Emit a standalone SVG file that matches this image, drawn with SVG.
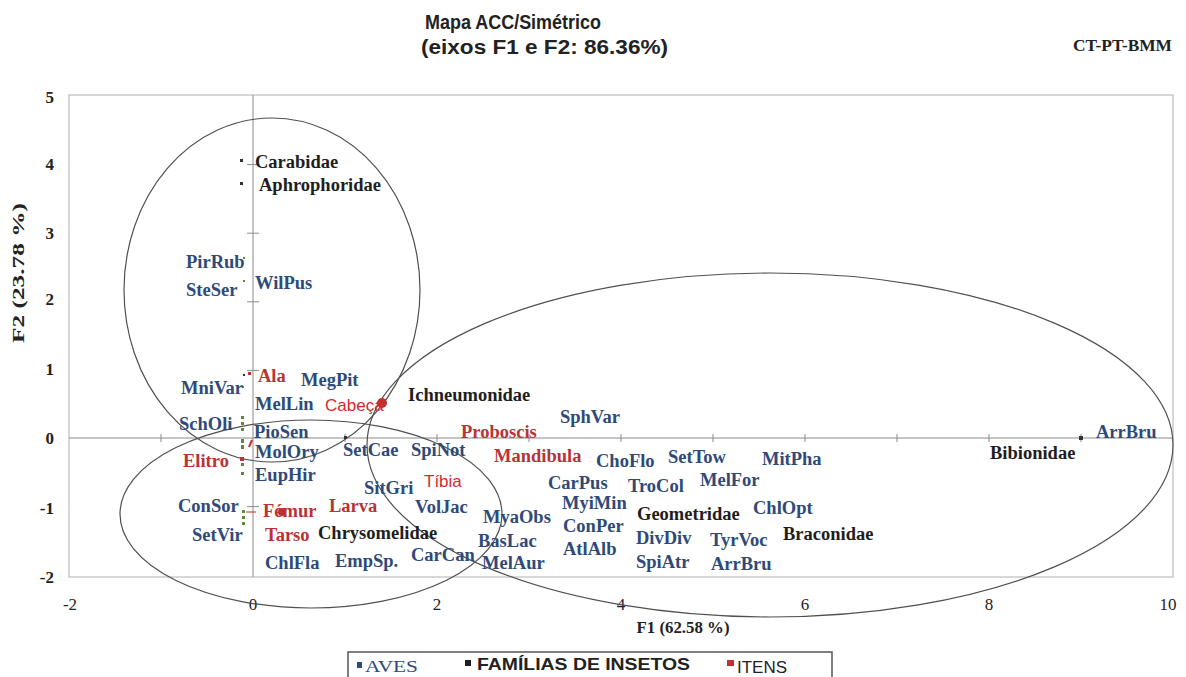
<svg xmlns="http://www.w3.org/2000/svg" width="1186" height="677" viewBox="0 0 1186 677">
<style>
.bg{fill:#fff}
.frame{fill:none;stroke:#b0b0b0;stroke-width:1}
.axis{stroke:#8a8a8a;stroke-width:1}
.tick{stroke:#8a8a8a;stroke-width:1}
.ell{fill:none;stroke:#505050;stroke-width:1.2}
.ttl{font-family:"Liberation Sans Narrow","Liberation Sans",Arial,sans-serif;font-size:20px;font-weight:bold;fill:#222}
.tk{font-family:"Liberation Serif","Times New Roman",serif;font-size:17px;fill:#222}
.tky{font-family:"Liberation Serif","Times New Roman",serif;font-size:17px;font-weight:bold;fill:#222;text-anchor:end}
.axl{font-family:"Liberation Serif","Times New Roman",serif;font-size:17px;font-weight:bold;fill:#222;text-anchor:middle}
.lb{font-family:"Liberation Serif","Times New Roman",serif;font-size:18.5px;font-weight:bold}
.av{fill:#2f4a78}
.fa{fill:#1e1e1e}
.it{fill:#b83434}
.its{font-family:"Liberation Sans",Arial,sans-serif;font-size:17px;fill:#d42a2e}
.mk{fill:#333}
.mg{fill:#5a8a3a}
.mr{fill:#c0302f}
.lg{font-family:"Liberation Sans Narrow","Liberation Sans",Arial,sans-serif;font-size:17px;font-weight:bold;fill:#222}
</style>
<rect class="bg" x="0" y="0" width="1186" height="677"/>
<g id="title">
<text class="ttl" x="425" y="29" textLength="176" lengthAdjust="spacingAndGlyphs">Mapa ACC/Simétrico</text>
<text class="ttl" x="421" y="54" textLength="247" lengthAdjust="spacingAndGlyphs">(eixos F1 e F2: 86.36%)</text>
<text x="1172" y="51" text-anchor="end" textLength="99" lengthAdjust="spacingAndGlyphs" style="font-family:'Liberation Serif',serif;font-size:16.5px;font-weight:bold;fill:#222">CT-PT-BMM</text>
</g>
<g id="axes">
<rect class="frame" x="69" y="95" width="1104" height="482"/>
<line class="axis" x1="69" y1="438" x2="1173" y2="438"/>
<line class="axis" x1="253" y1="95" x2="253" y2="577"/>
<path class="tick" d="M247 164.6h12M247 233.2h12M247 301.8h12M247 370.4h12M247 506.6h12M437 434v8M621 434v8M805 434v8M989 434v8M161 434v8M345 434v8M529 434v8M713 434v8M897 434v8M1081 434v8"/>
<text class="tky" x="54" y="103">5</text>
<text class="tky" x="54" y="170">4</text>
<text class="tky" x="54" y="239">3</text>
<text class="tky" x="54" y="305">2</text>
<text class="tky" x="54" y="375">1</text>
<text class="tky" x="54" y="444">0</text>
<text class="tky" x="54" y="514">-1</text>
<text class="tky" x="54" y="583">-2</text>
<text class="tk" x="70" y="610" text-anchor="middle">-2</text>
<text class="tk" x="253" y="610" text-anchor="middle">0</text>
<text class="tk" x="437" y="610" text-anchor="middle">2</text>
<text class="tk" x="621" y="610" text-anchor="middle">4</text>
<text class="tk" x="805" y="610" text-anchor="middle">6</text>
<text class="tk" x="989" y="610" text-anchor="middle">8</text>
<text class="tk" x="1168" y="610" text-anchor="middle">10</text>
<text class="axl" x="683" y="633" textLength="93" lengthAdjust="spacingAndGlyphs">F1 (62.58 %)</text>
<text class="axl" transform="translate(24 273) rotate(-90)" textLength="140" lengthAdjust="spacingAndGlyphs">F2 (23.78 %)</text>
</g>
<g id="connectors">
<ellipse class="ell" cx="272" cy="290" rx="148" ry="172"/>
<ellipse class="ell" cx="311" cy="514" rx="191" ry="94"/>
<ellipse class="ell" cx="770" cy="445" rx="403" ry="172"/>
</g>
<g id="markers">
<rect class="mk" x="240" y="159" width="3" height="3"/>
<rect class="mk" x="240" y="182" width="3" height="3"/>
<rect class="mg" x="243" y="257" width="2" height="2"/>
<rect class="mg" x="243" y="280" width="2" height="2"/>
<rect class="mk" x="243" y="374" width="2" height="2"/>
<rect class="mr" x="248" y="372" width="3" height="3"/>
<rect class="mg" x="242" y="386" width="2" height="2"/>
<rect class="mg" x="241" y="416" width="3" height="3"/>
<rect class="mg" x="241" y="422" width="3" height="3"/>
<rect class="mg" x="241" y="428" width="3" height="3"/>
<rect class="mg" x="241" y="439" width="3" height="4"/>
<rect class="mg" x="241" y="445" width="3" height="4"/>
<path d="M249 447l3 -7" stroke="#c0302f" stroke-width="2"/>
<rect class="mr" x="240" y="457" width="4" height="4"/>
<rect class="mg" x="241" y="463" width="3" height="3"/>
<rect class="mg" x="241" y="472" width="3" height="3"/>
<rect class="mg" x="242" y="510" width="3" height="3"/>
<rect class="mg" x="242" y="516" width="3" height="3"/>
<rect class="mg" x="242" y="522" width="3" height="3"/>
<line x1="246" y1="512" x2="256" y2="512" stroke="#c0302f" stroke-width="1"/>
<circle class="mr" cx="282" cy="512" r="4"/>
<circle class="mr" cx="382" cy="403" r="5"/>
<rect class="mk" x="344" y="436" width="3" height="3"/>
<rect class="mk" x="1079" y="436" width="4" height="4"/>
</g>
<g id="n-Carabidae"><text class="lb fa" x="255" y="168">Carabidae</text></g>
<g id="n-Aphrophoridae"><text class="lb fa" x="259" y="191">Aphrophoridae</text></g>
<g id="n-PirRub"><text class="lb av" x="186" y="268">PirRub</text></g>
<g id="n-SteSer"><text class="lb av" x="186" y="296">SteSer</text></g>
<g id="n-WilPus"><text class="lb av" x="255" y="289">WilPus</text></g>
<g id="n-MniVar"><text class="lb av" x="181" y="394">MniVar</text></g>
<g id="n-Ala"><text class="lb it" x="258" y="382">Ala</text></g>
<g id="n-MegPit"><text class="lb av" x="301" y="386">MegPit</text></g>
<g id="n-MelLin"><text class="lb av" x="255" y="410">MelLin</text></g>
<g id="n-Cabeca"><text class="its" x="325" y="411">Cabeça</text></g>
<g id="n-Ichneumonidae"><text class="lb fa" x="408" y="401">Ichneumonidae</text></g>
<g id="n-SphVar"><text class="lb av" x="560" y="423">SphVar</text></g>
<g id="n-SchOli"><text class="lb av" x="179" y="430">SchOli</text></g>
<g id="n-PioSen"><text class="lb av" x="254" y="438">PioSen</text></g>
<g id="n-Proboscis"><text class="lb it" x="461" y="438">Proboscis</text></g>
<g id="n-ArrBru2"><text class="lb av" x="1096" y="438">ArrBru</text></g>
<g id="n-MolOry"><text class="lb av" x="255" y="458">MolOry</text></g>
<g id="n-SetCae"><text class="lb av" x="343" y="456">SetCae</text></g>
<g id="n-SpiNot"><text class="lb av" x="411" y="456">SpiNot</text></g>
<g id="n-Mandibula"><text class="lb it" x="494" y="462">Mandibula</text></g>
<g id="n-ChoFlo"><text class="lb av" x="596" y="467">ChoFlo</text></g>
<g id="n-SetTow"><text class="lb av" x="668" y="463">SetTow</text></g>
<g id="n-MitPha"><text class="lb av" x="762" y="465">MitPha</text></g>
<g id="n-Bibionidae"><text class="lb fa" x="990" y="459">Bibionidae</text></g>
<g id="n-Elitro"><text class="lb it" x="183" y="467">Elitro</text></g>
<g id="n-EupHir"><text class="lb av" x="255" y="481">EupHir</text></g>
<g id="n-Tibia"><text class="its" x="424" y="487">Tíbia</text></g>
<g id="n-SitGri"><text class="lb av" x="364" y="494">SitGri</text></g>
<g id="n-CarPus"><text class="lb av" x="548" y="489">CarPus</text></g>
<g id="n-TroCol"><text class="lb av" x="628" y="492">TroCol</text></g>
<g id="n-MelFor"><text class="lb av" x="700" y="486">MelFor</text></g>
<g id="n-ConSor"><text class="lb av" x="178" y="512">ConSor</text></g>
<g id="n-Femur"><text class="lb it" x="263" y="517">Fémur</text></g>
<g id="n-Larva"><text class="lb it" x="329" y="512">Larva</text></g>
<g id="n-VolJac"><text class="lb av" x="415" y="513">VolJac</text></g>
<g id="n-MyaObs"><text class="lb av" x="483" y="523">MyaObs</text></g>
<g id="n-MyiMin"><text class="lb av" x="562" y="509">MyiMin</text></g>
<g id="n-Geometridae"><text class="lb fa" x="637" y="520">Geometridae</text></g>
<g id="n-ChlOpt"><text class="lb av" x="753" y="514">ChlOpt</text></g>
<g id="n-SetVir"><text class="lb av" x="192" y="541">SetVir</text></g>
<g id="n-Tarso"><text class="lb it" x="265" y="541">Tarso</text></g>
<g id="n-Chrysomelidae"><text class="lb fa" x="318" y="539">Chrysomelidae</text></g>
<g id="n-BasLac"><text class="lb av" x="478" y="547">BasLac</text></g>
<g id="n-ConPer"><text class="lb av" x="563" y="532">ConPer</text></g>
<g id="n-DivDiv"><text class="lb av" x="636" y="544">DivDiv</text></g>
<g id="n-TyrVoc"><text class="lb av" x="710" y="546">TyrVoc</text></g>
<g id="n-Braconidae"><text class="lb fa" x="783" y="540">Braconidae</text></g>
<g id="n-CarCan"><text class="lb av" x="411" y="561">CarCan</text></g>
<g id="n-AtlAlb"><text class="lb av" x="563" y="555">AtlAlb</text></g>
<g id="n-ChlFla"><text class="lb av" x="265" y="569">ChlFla</text></g>
<g id="n-EmpSp"><text class="lb av" x="335" y="567">EmpSp.</text></g>
<g id="n-MelAur"><text class="lb av" x="482" y="569">MelAur</text></g>
<g id="n-SpiAtr"><text class="lb av" x="636" y="568">SpiAtr</text></g>
<g id="n-ArrBru"><text class="lb av" x="711" y="570">ArrBru</text></g>
<g id="legend">
<rect x="348" y="652" width="484" height="30" fill="#fff" stroke="#555" stroke-width="1.5"/>
<rect x="357" y="662" width="5" height="6" fill="#2f4a78"/>
<text x="365" y="672" textLength="53" lengthAdjust="spacingAndGlyphs" style="font-family:'Liberation Serif',serif;font-size:17px;fill:#2f4a78">AVES</text>
<rect x="465" y="660" width="6" height="6" fill="#1e1e1e"/>
<text class="lg" x="477" y="670" textLength="213" lengthAdjust="spacingAndGlyphs">FAMÍLIAS DE INSETOS</text>
<rect x="727" y="660" width="7" height="6" fill="#c0302f"/>
<text x="737" y="673" textLength="50" lengthAdjust="spacingAndGlyphs" style="font-family:'Liberation Sans Narrow','Liberation Sans',Arial,sans-serif;font-size:16px;fill:#222">ITENS</text>
</g>
</svg>
